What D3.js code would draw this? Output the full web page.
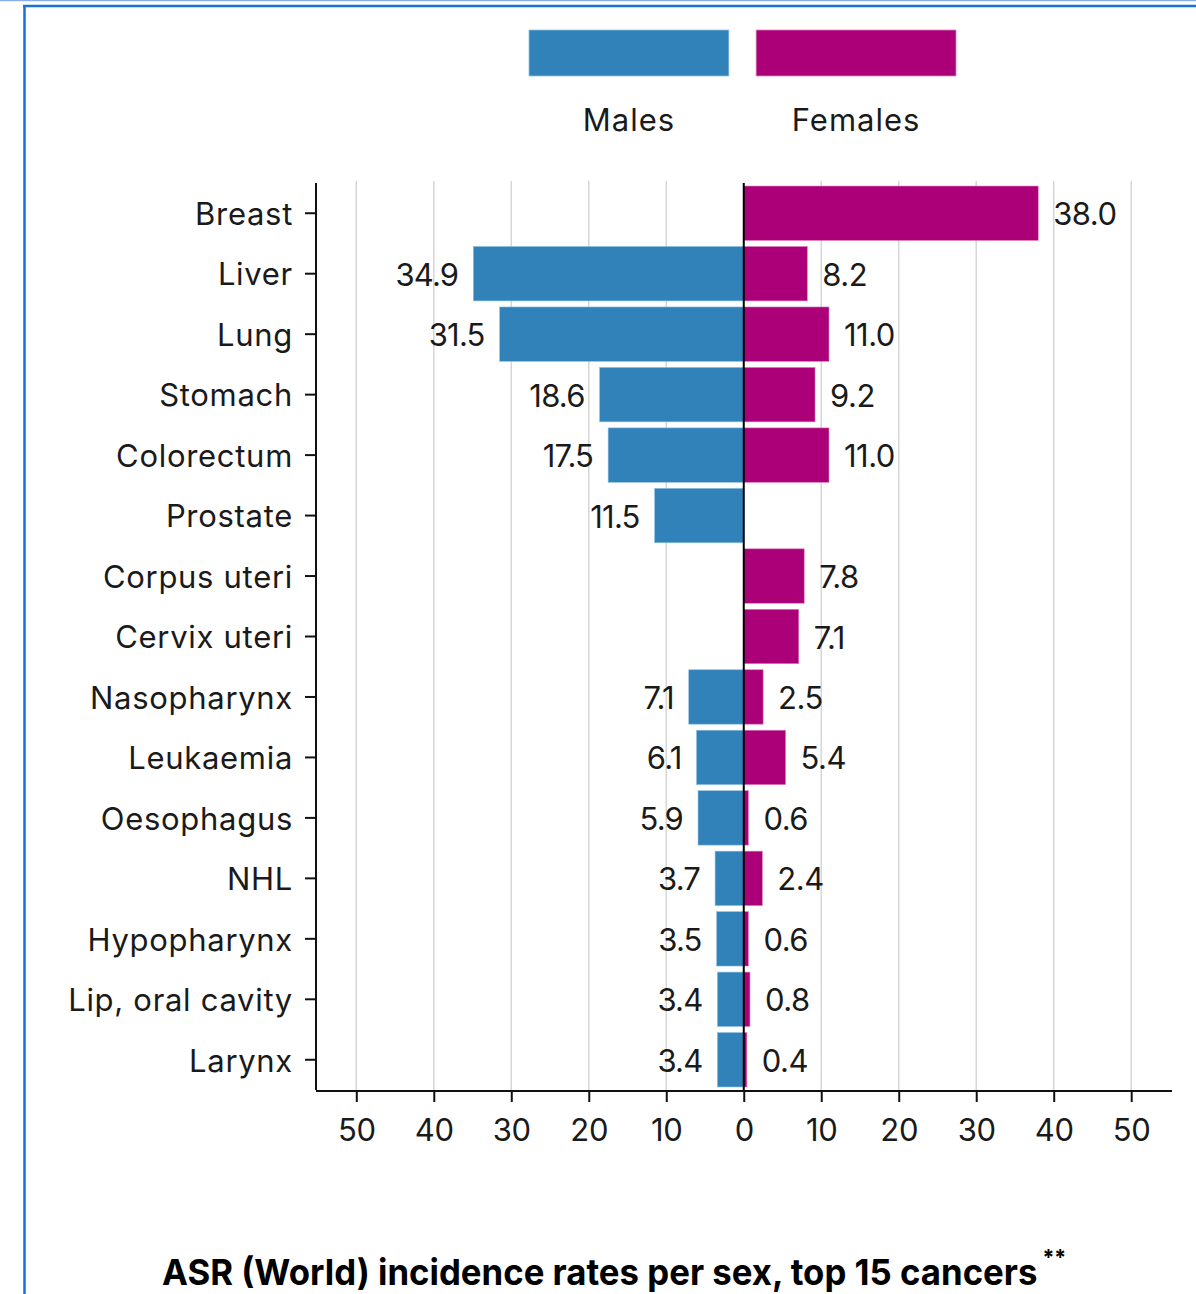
<!DOCTYPE html>
<html><head><meta charset="utf-8">
<script src="https://cdn.jsdelivr.net/npm/d3@7"></script>
<style>
html,body{margin:0;padding:0;background:#fff;}
svg{display:block;}
text{font-family:Inter,"Noto Sans",sans-serif;fill:#1a1a1a;}
</style></head>
<body>
<svg id="chart" width="1196" height="1294"></svg>
<script>
const categories = ["Breast","Liver","Lung","Stomach","Colorectum","Prostate","Corpus uteri","Cervix uteri","Nasopharynx","Leukaemia","Oesophagus","NHL","Hypopharynx","Lip, oral cavity","Larynx"];
const males   = [null,34.9,31.5,18.6,17.5,11.5,null,null,7.1,6.1,5.9,3.7,3.5,3.4,3.4];
const females = [38.0,8.2,11.0,9.2,11.0,null,7.8,7.1,2.5,5.4,0.6,2.4,0.6,0.8,0.4];
const tickValues = [-50,-40,-30,-20,-10,0,10,20,30,40,50];
const seriesNames = ["Males","Females"];
const colors = {Males:"#3282ba", Females:"#ab0077"};
const title = "ASR (World) incidence rates per sex, top 15 cancers";
const titleNote = "**";

const svg = d3.select("#chart");

// frame lines
svg.append("line").attr("x1",0).attr("x2",1196).attr("y1",0.5).attr("y2",0.5).attr("stroke","#8aaee6").attr("stroke-width",1.5);
svg.append("line").attr("x1",23).attr("x2",1196).attr("y1",6).attr("y2",6).attr("stroke","#1a6fd8").attr("stroke-width",2.5);
svg.append("line").attr("x1",24.5).attr("x2",24.5).attr("y1",5).attr("y2",1294).attr("stroke","#1a6fd8").attr("stroke-width",2.5);

const x = d3.scaleLinear().domain([-55.2,55.2]).range([316,1171.5]);
const y = d3.scaleBand().domain(categories).range([183,1090]).paddingInner(0.1).paddingOuter(0.05);

// gridlines
svg.append("g").selectAll("line").data(tickValues.filter(d=>d!==0)).join("line")
  .attr("x1",d=>x(d)).attr("x2",d=>x(d)).attr("y1",181).attr("y2",1090)
  .attr("stroke","#d6d6d6").attr("stroke-width",1.5);

const rows = categories.map((c,i)=>({c, m:males[i], f:females[i]}));

// male bars
svg.append("g").selectAll("rect").data(rows.filter(d=>d.m!=null)).join("rect")
  .attr("x",d=>x(-d.m)).attr("width",d=>x(0)-x(-d.m))
  .attr("y",d=>y(d.c)).attr("height",y.bandwidth())
  .attr("fill",colors.Males).attr("stroke","#8ec0e3").attr("stroke-width",0.6);
// female bars
svg.append("g").selectAll("rect").data(rows.filter(d=>d.f!=null)).join("rect")
  .attr("x",x(0)).attr("width",d=>x(d.f)-x(0))
  .attr("y",d=>y(d.c)).attr("height",y.bandwidth())
  .attr("fill",colors.Females).attr("stroke","#e07fc0").attr("stroke-width",0.6);

// value labels
const fmt = d3.format(".1f");
svg.append("g").selectAll("text").data(rows.filter(d=>d.m!=null)).join("text")
  .attr("x",d=>x(-d.m)-15).attr("y",d=>y(d.c)+y.bandwidth()/2+12)
  .attr("text-anchor","end").attr("font-size",31).attr("letter-spacing",-0.8)
  .text(d=>fmt(d.m));
svg.append("g").selectAll("text").data(rows.filter(d=>d.f!=null)).join("text")
  .attr("x",d=>x(d.f)+15).attr("y",d=>y(d.c)+y.bandwidth()/2+12)
  .attr("text-anchor","start").attr("font-size",31).attr("letter-spacing",-0.5)
  .text(d=>fmt(d.f));

// zero line
svg.append("line").attr("x1",x(0)).attr("x2",x(0)).attr("y1",183).attr("y2",1090).attr("stroke","#000").attr("stroke-width",2);

// y axis
const yAxis = svg.append("g").attr("transform","translate(316,0)").call(d3.axisLeft(y).tickSize(11).tickPadding(12));
yAxis.select(".domain").attr("stroke","#111").attr("stroke-width",2).attr("d","M0,183V1090");
yAxis.selectAll(".tick line").attr("stroke","#111").attr("stroke-width",2);
yAxis.selectAll(".tick text").attr("font-size",31).attr("font-family","Inter,sans-serif").attr("fill","#1a1a1a").attr("dy","0.38em").attr("letter-spacing",0.7);

// x axis
const xAxis = svg.append("g").attr("transform","translate(0,1091)")
  .call(d3.axisBottom(x).tickValues(tickValues).tickFormat(d=>Math.abs(d)).tickSize(11).tickPadding(17));
xAxis.select(".domain").attr("stroke","#111").attr("stroke-width",2).attr("d","M316,0H1172");
xAxis.selectAll(".tick line").attr("stroke","#111").attr("stroke-width",2);
xAxis.selectAll(".tick text").attr("font-size",31).attr("font-family","Inter,sans-serif").attr("fill","#1a1a1a").attr("letter-spacing",-0.3);

// legend
const lx = d3.scaleBand().domain(seriesNames).range([529,956]).paddingInner(0.12);
const leg = svg.append("g");
leg.selectAll("rect").data(seriesNames).join("rect")
  .attr("x",d=>lx(d)).attr("y",30).attr("width",lx.bandwidth()).attr("height",46)
  .attr("fill",d=>colors[d]).attr("stroke",d=>d==="Males"?"#8ec0e3":"#e07fc0").attr("stroke-width",0.8);
leg.selectAll("text").data(seriesNames).join("text")
  .attr("x",d=>lx(d)+lx.bandwidth()/2).attr("y",131).attr("text-anchor","middle")
  .attr("font-size",31).attr("letter-spacing",1).text(d=>d);

// title (single text element, condensed to fit)
const tt = svg.append("text").attr("font-size",36).attr("font-weight",700).attr("fill","#000");
tt.append("tspan").attr("fill","#000").text(title);
const w = tt.node().getComputedTextLength();
const s = 876 / w;
tt.attr("transform",`translate(162,1285) scale(${s},1)`);
tt.append("tspan").attr("fill","#000").attr("dx",5/s).attr("dy",-20).attr("font-size",22).text(titleNote);
</script>
</body></html>
